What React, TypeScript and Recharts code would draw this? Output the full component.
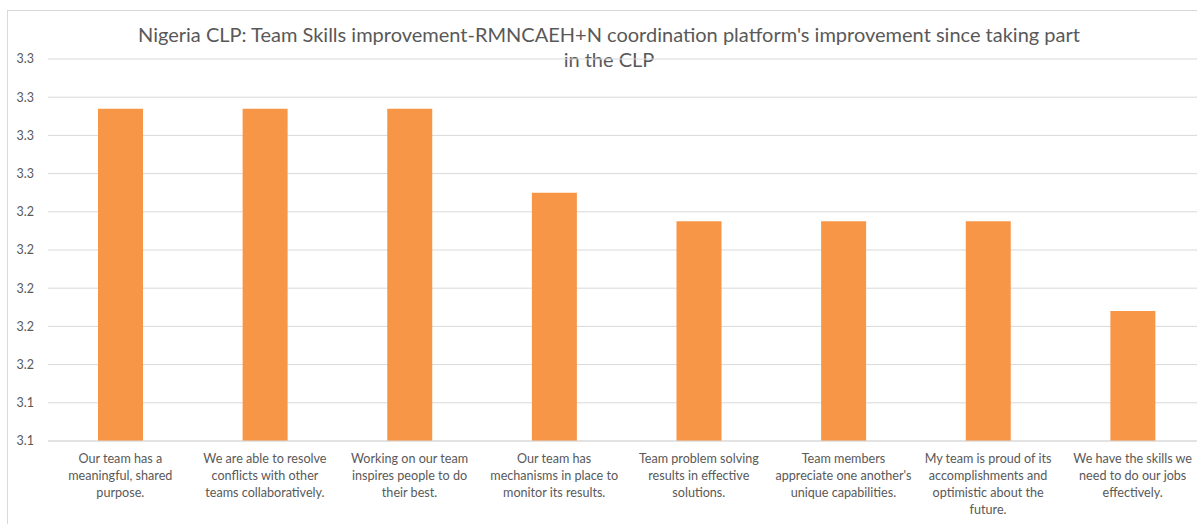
import React from "react";
import { BarChart, Bar, XAxis, YAxis, CartesianGrid } from "recharts";

const TITLE_LINE_1 =
  "Nigeria CLP: Team Skills improvement-RMNCAEH+N coordination platform's improvement since taking part";
const TITLE_LINE_2 = "in the CLP";

// label lines split with \n the way the original wraps them
const categories = [
  "Our team has a\nmeaningful, shared\npurpose.",
  "We are able to resolve\nconflicts with other\nteams collaboratively.",
  "Working on our team\ninspires people to do\ntheir best.",
  "Our team has\nmechanisms in place to\nmonitor its results.",
  "Team problem solving\nresults in effective\nsolutions.",
  "Team members\nappreciate one another's\nunique capabilities.",
  "My team is proud of its\naccomplishments and\noptimistic about the\nfuture.",
  "We have the skills we\nneed to do our jobs\neffectively.",
];

const scores = [3.294, 3.294, 3.294, 3.25, 3.235, 3.235, 3.235, 3.188];

const yTicks = [3.12, 3.14, 3.16, 3.18, 3.2, 3.22, 3.24, 3.26, 3.28, 3.3, 3.32];

const FONT = "Lato, 'Noto Sans', sans-serif";
const TEXT = "#595959";
const GRID = "#d9d9d9";
const ORANGE = "#f79646";

const data = categories.map((label, i) => ({ label, score: scores[i] }));

function CategoryTick(props: any) {
  const { x, y, payload } = props;
  const lines = String(payload.value).split("\n");
  return (
    <g transform={`translate(${x},${y})`}>
      {lines.map((line, i) => (
        <text
          key={i}
          x={0}
          y={22 + i * 17}
          textAnchor="middle"
          fill={TEXT}
          fontSize={12.6}
          fontFamily={FONT}
        >
          {line}
        </text>
      ))}
    </g>
  );
}

export default function App() {
  return (
    <div
      style={{
        position: "fixed",
        inset: 0,
        overflow: "hidden",
        background: "#fff",
      }}
    >
      <div
        style={{
          position: "absolute",
          left: 7,
          top: 10,
          width: 1204,
          height: 540,
          border: `1px solid ${GRID}`,
          boxSizing: "border-box",
        }}
      >
        <div
          style={{
            position: "absolute",
            left: 0,
            top: 11,
            width: 1202,
            textAlign: "center",
            fontFamily: FONT,
            fontSize: 20,
            lineHeight: "25px",
            color: TEXT,
            whiteSpace: "nowrap",
          }}
        >
          {TITLE_LINE_1}
          <br />
          {TITLE_LINE_2}
        </div>
        <BarChart
          width={1202}
          height={520}
          data={data}
          margin={{ top: 48, right: 5, bottom: 0, left: 1 }}
        >
          <CartesianGrid vertical={false} stroke={GRID} />
          <XAxis
            dataKey="label"
            interval={0}
            height={90}
            tickLine={false}
            tickSize={0}
            tickMargin={0}
            axisLine={{ stroke: GRID }}
            tick={<CategoryTick />}
          />
          <YAxis
            domain={[3.12, 3.32]}
            ticks={yTicks}
            width={39}
            axisLine={false}
            tickLine={false}
            tickMargin={8}
            tickFormatter={(v: number) => v.toFixed(1)}
            tick={{ fill: TEXT, fontSize: 12.5, fontFamily: FONT }}
          />
          <Bar
            dataKey="score"
            fill={ORANGE}
            barSize={45}
            isAnimationActive={false}
          />
        </BarChart>
      </div>
    </div>
  );
}
